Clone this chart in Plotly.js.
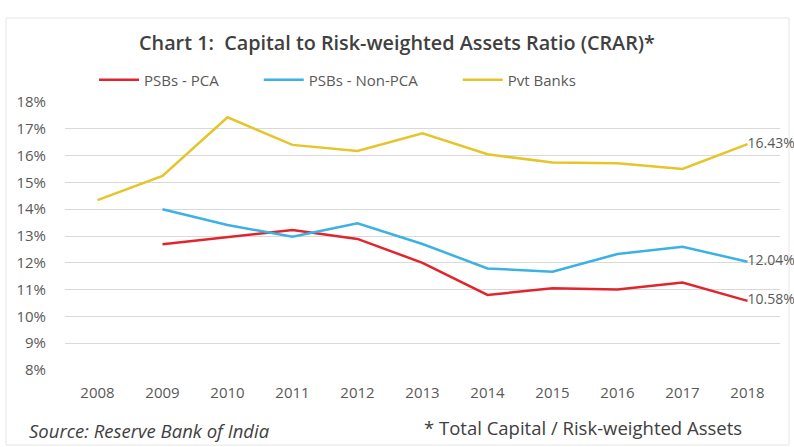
<!DOCTYPE html>
<html>
<head>
<meta charset="utf-8">
<script src="https://cdn.plot.ly/plotly-3.0.1.min.js"></script>
<style>html,body{margin:0;padding:0;background:#fff;}#chart{width:794px;height:447px;}</style>
</head>
<body>
<div id="chart"></div>
<script>
const years = ['2008','2009','2010','2011','2012','2013','2014','2015','2016','2017','2018'];
const psbPca = [null, 12.69, 12.95, 13.22, 12.89, 12.0, 10.8, 11.05, 11.0, 11.26, 10.58];
const psbNonPca = [null, 14.0, 13.41, 12.97, 13.47, 12.7, 11.79, 11.67, 12.33, 12.6, 12.04];
const pvtBanks = [14.34, 15.24, 17.43, 16.4, 16.17, 16.83, 16.05, 15.74, 15.71, 15.5, 16.43];
const seriesNames = ['PSBs - PCA', 'PSBs - Non-PCA', 'Pvt Banks'];
const yTickVals = [8,9,10,11,12,13,14,15,16,17,18];
const yTickText = ['8%','9%','10%','11%','12%','13%','14%','15%','16%','17%','18%'];

const colors = ['#e2252d', '#3cb1e3', '#e6c52a'];
const font = '"Open Sans", sans-serif';
const pads = ['\u00a0'.repeat(9), '\u00a0'.repeat(9), ''];

function lastLabel(arr){
  return arr.map((v,i)=> i===arr.length-1 ? v.toFixed(2)+'%' : '');
}

const data = [psbPca, psbNonPca, pvtBanks].map((arr, k) => ({
  x: years, y: arr, name: seriesNames[k] + pads[k], type: 'scatter', mode: 'lines+text',
  line: {color: colors[k], width: 2.5},
  text: lastLabel(arr), textposition: 'middle right',
  textfont: {family: font, size: 14, color: '#595959'},
  cliponaxis: false, hoverinfo: 'skip'
}));

const layout = {
  width: 794, height: 447,
  margin: {l: 65, r: 14, t: 102, b: 77},
  paper_bgcolor: '#ffffff', plot_bgcolor: '#ffffff',
  font: {family: font, color: '#595959'},
  title: {text: 'Chart 1:  Capital to Risk-weighted Assets Ratio (CRAR)*',
    font: {family: font, size: 19.8, color: '#404040', weight: 600}, x: 0.5, xanchor: 'center', y: 0.904, yanchor: 'middle'},
  showlegend: true,
  legend: {orientation: 'h', x: (94-65)/715, xanchor: 'left', y: (370-80)/268, yanchor: 'middle',
    font: {family: font, size: 15, color: '#595959'},
    traceorder: 'normal', itemwidth: 40, bgcolor: 'rgba(0,0,0,0)'},
  xaxis: {type: 'category', range: [-0.5, 10.5], showgrid: false, zeroline: false, showline: false,
    ticks: '', ticklabelstandoff: 12, tickfont: {family: font, size: 15, color: '#595959'}, fixedrange: true},
  yaxis: {range: [8, 18], tickvals: yTickVals, ticktext: yTickText, showgrid: true, gridcolor: '#d9d9d9',
    gridwidth: 1, zeroline: false, showline: false, ticks: '', ticklabelstandoff: 18,
    tickfont: {family: font, size: 15, color: '#595959'}, fixedrange: true},
  shapes: [
    {type: 'rect', xref: 'paper', yref: 'paper', x0: (6-65)/715, x1: (789-65)/715, y0: (370-445)/268, y1: (370-18)/268,
     line: {color: '#e6e6e6', width: 1}, fillcolor: 'rgba(0,0,0,0)', layer: 'below'}
  ],
  annotations: [
    {xref: 'paper', yref: 'paper', x: (27-65)/715, y: (370-430)/268, xanchor: 'left', yanchor: 'middle', showarrow: false,
     text: 'Source: Reserve Bank of India', font: {family: font, size: 18.5, color: '#404040', style: 'italic'}},
    {xref: 'paper', yref: 'paper', x: (422-65)/715, y: (370-427)/268, xanchor: 'left', yanchor: 'middle', showarrow: false,
     text: '* Total Capital / Risk-weighted Assets', font: {family: font, size: 18.5, color: '#404040'}}
  ]
};

Plotly.newPlot('chart', data, layout, {displayModeBar: false, staticPlot: true});
</script>
</body>
</html>
